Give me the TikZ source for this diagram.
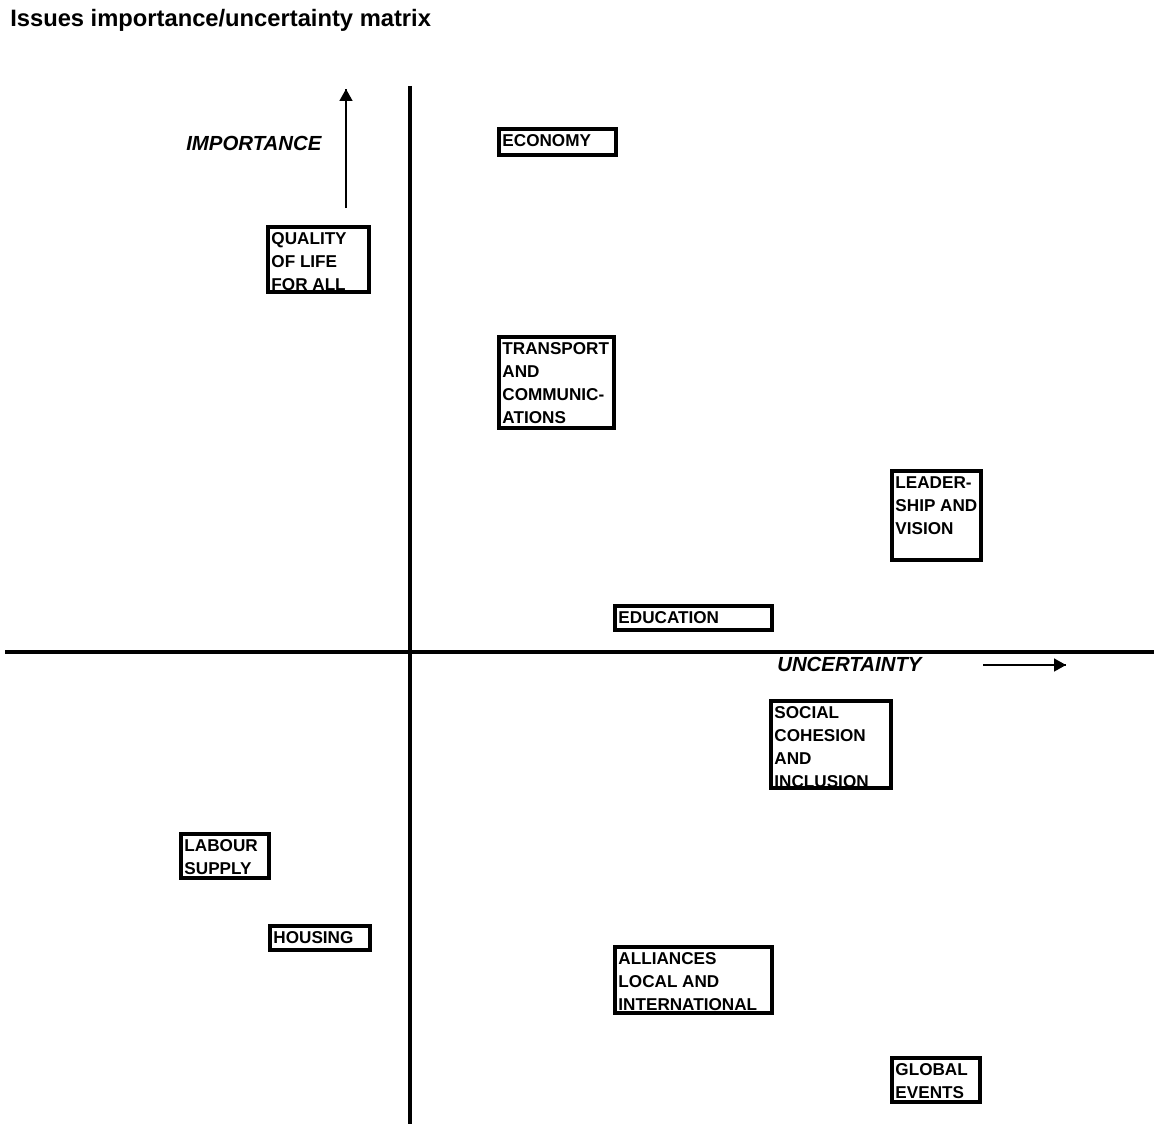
\documentclass[tikz,border=0pt]{standalone}
\usepackage{fontspec}
\setmainfont{Liberation Sans}
\usetikzlibrary{arrows.meta}
\usetikzlibrary{decorations.markings}
\newdimen\pxu \pxu=0.75pt
\tikzset{axisline/.style={line width=3pt}}
\tikzset{issuebox/.style={draw,line width=3pt,anchor=north west,outer sep=0pt,
    inner xsep=2.6pt,inner ysep=4.5pt,font=\fontsize{12.85}{17.1}\selectfont\bfseries}}
\tikzset{axislabel/.style={anchor=base west,inner sep=0pt,
    font=\fontsize{15.3}{18}\selectfont\bfseries\itshape}}
\tikzset{myptr/.style={line width=1.2pt,decoration={markings,mark=at position 1 with %
    {\arrow{Triangle[length=9pt,width=9.75pt]}}},postaction={decorate}}}
% width, height (px), text
\newcommand{\issuetext}[3]{\parbox[t][#2\pxu][t]{#1\pxu}{\raggedright #3}}

\begin{document}
\begin{tikzpicture}[x=0.75pt,y=-0.75pt]
	  \useasboundingbox (0,0) rectangle (1154,1124);

	  \node [anchor=base west,inner sep=0pt,font=\fontsize{17.8}{20}\selectfont\bfseries]
	      (title) at (10,27) {Issues importance/uncertainty matrix};

	  % axes
	  \coordinate (vtop) at (410,86);
	  \coordinate (vbot) at (410,1124);
	  \coordinate (hleft) at (5,652);
	  \coordinate (hright) at (1154,652);
	  \draw [axisline] (vtop) -- (vbot);
	  \draw [axisline] (hleft) -- (hright);

	  \coordinate (impbase) at (346,208);
	  \coordinate (imptip) at (346,89);
	  \draw [myptr] (impbase) -- (imptip);
	  \node [axislabel] (imp) at (186,151) {IMPORTANCE};

	  \coordinate (uncbase) at (983,665);
	  \coordinate (unctip) at (1066,665);
	  \draw [myptr] (uncbase) -- (unctip);
	  \node [axislabel] (unc) at (777,671) {UNCERTAINTY};

	  % issues
	  \node [issuebox] (economy) at (499,129) {\issuetext{110}{14}{ECONOMY}};
	  \node [issuebox] (quality) at (268,227) {\issuetext{94}{53}{QUALITY\\OF LIFE\\FOR ALL}};
	  \node [issuebox] (transport) at (499,337) {\issuetext{108}{79}{TRANSPORT\\AND\\COMMUNIC-\\ATIONS}};
	  \node [issuebox] (leader) at (892,471) {\issuetext{82}{77}{LEADER-\\SHIP AND\\VISION}};
	  \node [issuebox] (education) at (615,606) {\issuetext{150}{9}{EDUCATION}};
	  \node [issuebox] (social) at (771,701) {\issuetext{113}{75}{SOCIAL\\COHESION\\AND\\INCLUSION}};
	  \node [issuebox] (labour) at (181,834) {\issuetext{81}{32}{LABOUR\\SUPPLY}};
	  \node [issuebox] (housing) at (270,926) {\issuetext{93}{7}{HOUSING}};
	  \node [issuebox] (alliances) at (615,947) {\issuetext{150}{54}{ALLIANCES\\LOCAL AND\\INTERNATIONAL}};
	  \node [issuebox] (global) at (892,1058) {\issuetext{81}{32}{GLOBAL\\EVENTS}};

\end{tikzpicture}
\end{document}
